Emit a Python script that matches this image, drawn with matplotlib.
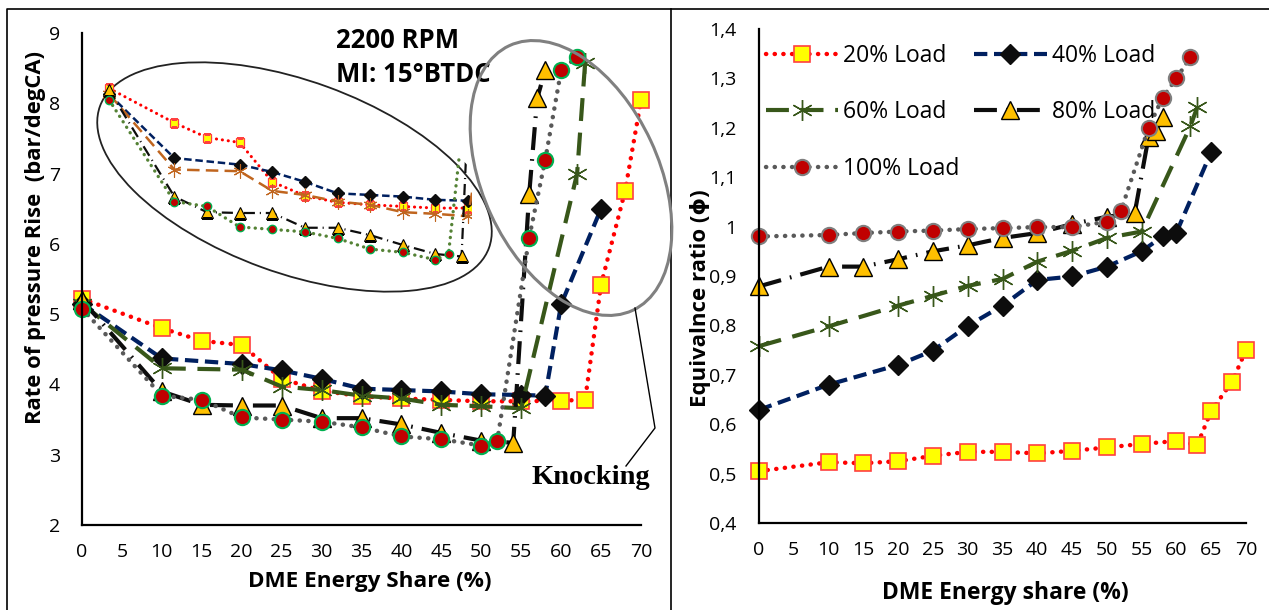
import matplotlib
matplotlib.use("Agg")
import matplotlib.pyplot as plt
from matplotlib.patches import Ellipse
from matplotlib.lines import Line2D
from matplotlib.ticker import FuncFormatter, MultipleLocator

plt.rcParams['font.family'] = ['Open Sans', 'DejaVu Sans']

# ---------------- data ----------------
x20 = [0, 10, 15, 20, 25, 30, 35, 40, 45, 50, 55, 60, 63, 65, 68, 70]
rpr20 = [5.22, 4.80, 4.62, 4.56, 4.08, 3.91, 3.83, 3.80, 3.78, 3.76, 3.76, 3.77, 3.78, 5.42, 6.75, 8.04]
phi20 = [0.505, 0.523, 0.521, 0.525, 0.536, 0.544, 0.544, 0.541, 0.546, 0.553, 0.560, 0.566, 0.558, 0.627, 0.686, 0.750]

x40 = [0, 10, 20, 25, 30, 35, 40, 45, 50, 55, 58, 60, 65]
rpr40 = [5.15, 4.37, 4.29, 4.20, 4.08, 3.94, 3.92, 3.90, 3.86, 3.85, 3.84, 5.14, 6.50]
phi40 = [0.629, 0.680, 0.720, 0.749, 0.799, 0.840, 0.892, 0.899, 0.919, 0.950, 0.980, 0.988, 1.151]

x60 = [0, 10, 20, 25, 30, 35, 40, 45, 50, 55, 62, 63]
rpr60 = [5.15, 4.23, 4.21, 3.97, 3.92, 3.84, 3.80, 3.71, 3.69, 3.66, 7.00, 8.57]
phi60 = [0.758, 0.798, 0.840, 0.860, 0.880, 0.894, 0.929, 0.951, 0.977, 0.990, 1.203, 1.242]

x80 = [0, 10, 15, 20, 25, 30, 35, 40, 45, 50, 54, 56, 57, 58]
rpr80 = [5.20, 3.90, 3.71, 3.70, 3.70, 3.52, 3.52, 3.43, 3.31, 3.20, 3.17, 6.71, 8.07, 8.47]
phi80 = [0.879, 0.919, 0.919, 0.934, 0.950, 0.962, 0.977, 0.987, 1.005, 1.020, 1.027, 1.182, 1.193, 1.221]

x100 = [0, 10, 15, 20, 25, 30, 35, 40, 45, 50, 52, 56, 58, 60, 62]
rpr100 = [5.08, 3.84, 3.78, 3.53, 3.50, 3.47, 3.39, 3.26, 3.22, 3.13, 3.20, 6.09, 7.19, 8.47, 8.66]
phi100 = [0.980, 0.983, 0.987, 0.990, 0.992, 0.995, 0.997, 0.999, 0.999, 1.010, 1.031, 1.200, 1.261, 1.300, 1.343]

labels = ['20% Load', '40% Load', '60% Load', '80% Load', '100% Load']
x_ticks = list(range(0, 75, 5))

W, H = 1269, 610
fig = plt.figure(figsize=(W / 100, H / 100), dpi=100)


def px_axes(x0, y0, x1, y1):
    return [x0 / W, 1 - y1 / H, (x1 - x0) / W, (y1 - y0) / H]


DOT = (0, (0.05, 1.9))
styles = {
    '20': dict(color='#FF0000', ls=DOT, lw=3.2, dash_capstyle='round', marker='s', ms=11,
               mfc='#FFFF00', mec='#FF4040', mew=1.2),
    '40': dict(color='#002060', ls=(0, (3.2, 1.6)), lw=3.0, marker='D', ms=10.5,
               mfc='#0D0D0D', mec='#0D0D0D', mew=1.0),
    '60': dict(color='#38571A', ls=(0, (5.5, 2.8)), lw=3.0, marker=(6, 2, 0), ms=15,
               mfc='#38571A', mec='#38571A', mew=1.0),
    '80': dict(color='#0D0D0D', ls=(0, (5.5, 2.2, 0.4, 2.2)), lw=3.0, marker='^', ms=13,
               mfc='#FFC000', mec='#000000', mew=1.0),
    '100': dict(color='#595959', ls=DOT, lw=3.2, dash_capstyle='round', marker='o', ms=11,
                mfc='#C00000', mec='#00B050', mew=1.5),
}


def style_axes(ax):
    for s in ['top', 'right']:
        ax.spines[s].set_visible(False)
    for s in ['left', 'bottom']:
        ax.spines[s].set_linewidth(1.6)
        ax.spines[s].set_color('black')
    ax.tick_params(length=0, labelsize=14)
    ax.tick_params(axis='y', pad=16)
    ax.tick_params(axis='x', pad=13)
    ax.set_facecolor('none')


# ---------------- left chart ----------------
ax1 = fig.add_axes(px_axes(82, 33, 641, 525))
ax1.plot(x20, rpr20, **styles['20'])
ax1.plot(x40, rpr40, **styles['40'])
ax1.plot(x60, rpr60, **styles['60'])
ax1.plot(x80, rpr80, **styles['80'])
ax1.plot(x100, rpr100, **styles['100'])
ax1.set_xlim(0, 70)
ax1.set_ylim(2, 9)
ax1.set_xticks(x_ticks)
ax1.yaxis.set_major_locator(MultipleLocator(1))
style_axes(ax1)
for c in ax1.get_children():
    if isinstance(c, Line2D):
        c.set_clip_on(False)
ax1.set_xlabel('DME Energy Share (%)', fontsize=16.2, fontweight='bold')
ax1.xaxis.set_label_coords((370 - 82) / 559, -(571 - 525) / 492)
ax1.set_ylabel('Rate of pressure Rise  (bar/degCA)', fontsize=15.8, fontweight='bold')
ax1.yaxis.set_label_coords((46 - 82) / 559, (525 - 237) / 492)
ax1.text((336 - 82) / 559, (525 - 40) / 492, '2200 RPM', transform=ax1.transAxes, fontsize=18.5,
         fontweight='bold', ha='left', va='center')
ax1.text((336 - 82) / 559, (525 - 75) / 492, 'MI: 15°BTDC', transform=ax1.transAxes, fontsize=18.5,
         fontweight='bold', ha='left', va='center')

# ---------------- right chart ----------------
ax2 = fig.add_axes(px_axes(759, 29, 1246, 523))
h20, = ax2.plot(x20, phi20, **styles['20'])
h40, = ax2.plot(x40, phi40, **styles['40'])
h60, = ax2.plot(x60, phi60, **styles['60'])
h80, = ax2.plot(x80, phi80, **styles['80'])
st100 = dict(styles['100'])
st100['mec'] = '#7F7F7F'
h100, = ax2.plot(x100, phi100, **st100)
ax2.set_xlim(0, 70)
ax2.set_ylim(0.4, 1.4)
ax2.set_xticks(x_ticks)
ax2.yaxis.set_major_locator(MultipleLocator(0.1))
ax2.yaxis.set_major_formatter(FuncFormatter(lambda v, p: ('%g' % round(v, 2)).replace('.', ',')))
style_axes(ax2)
for c in ax2.get_children():
    if isinstance(c, Line2D):
        c.set_clip_on(False)
ax2.set_xlabel('DME Energy share (%)', fontsize=16.5, fontweight='bold')
ax2.xaxis.set_label_coords((1005 - 759) / 487, -(581 - 523) / 494)
ax2.set_ylabel('Equivalnce ratio (ϕ)', fontsize=16, fontweight='bold')
ax2.yaxis.set_label_coords((711 - 759) / 487, (523 - 298) / 494)
ax2.legend([h20, h60, h100, h40, h80],
           [labels[0], labels[2], labels[4], labels[1], labels[3]],
           ncol=2, loc='upper left', bbox_to_anchor=(0.014, 0.970), frameon=False,
           fontsize=16.5, handlelength=3.15, handletextpad=0.22, columnspacing=0.65,
           labelspacing=1.42, borderaxespad=0.0, borderpad=0.0)

# ---------------- inset (zoomed copy in the ellipse) ----------------
ov = fig.add_axes([0, 0, 1, 1])
ov.set_xlim(0, W)
ov.set_ylim(H, 0)
ov.axis('off')
ov.set_facecolor('none')

clip_ell = Ellipse((294.5, 177), 430, 208, angle=20, fill=False, lw=0, alpha=0)
ov.add_patch(clip_ell)

inset = fig.add_axes(px_axes(96, 69.5, 472, 278.6))
inset.set_xlim(-2, 55.6)
inset.set_ylim(2.9, 5.45)
inset.axis('off')
inset.set_facecolor('none')
ins_styles = {
    '20': dict(color='#FF0000', ls=(0, (0.05, 1.9)), lw=2.2, dash_capstyle='round', marker='s', ms=6,
               mfc='#FFFF00', mec='#FF4040', mew=0.9),
    '40': dict(color='#002060', ls=(0, (3, 1.5)), lw=1.8, marker='D', ms=6, mfc='#0D0D0D', mec='#0D0D0D'),
    '60': dict(color='#C0651E', ls=(0, (5, 2.5)), lw=1.8, marker=(6, 2, 0), ms=10, mfc='#C0651E',
               mec='#C0651E', mew=0.8),
    '80': dict(color='#0D0D0D', ls=(0, (5, 2.2, 0.5, 2.2)), lw=1.6, marker='^', ms=8, mfc='#FFC000',
               mec='#000000', mew=0.8),
    '100': dict(color='#548235', ls=(0, (0.05, 1.9)), lw=2.4, dash_capstyle='round', marker='o', ms=6,
                mfc='#C00000', mec='#00B050', mew=1.0),
}
for key, xs, ys in [('20', x20, rpr20), ('40', x40, rpr40), ('60', x60, rpr60),
                    ('80', x80, rpr80), ('100', x100, rpr100)]:
    ln, = inset.plot(xs, ys, **ins_styles[key])
    ln.set_clip_path(clip_ell)
    ln.set_clip_box(inset.bbox)

# ellipses, callout
ov.add_patch(Ellipse((294.5, 177), 414, 192, angle=20, fill=False, lw=1.3, ec='#222222', zorder=5))
ov.add_patch(Ellipse((571, 178), 292, 176, angle=65, fill=False, lw=2.2, ec='#808080', zorder=5))
ov.plot([635, 655, 626], [308, 428, 466], color='black', lw=1.0, zorder=5)
ov.text(591, 478, 'Knocking', fontsize=20.5, fontweight='bold', family='Liberation Serif',
        ha='center', va='center', zorder=6)

# panel borders
ov.plot([7, 7, 1269], [612, 9, 9], color='black', lw=1.2)
ov.plot([671, 671], [9, 612], color='black', lw=1.2)

fig.savefig('out.png', dpi=100)
